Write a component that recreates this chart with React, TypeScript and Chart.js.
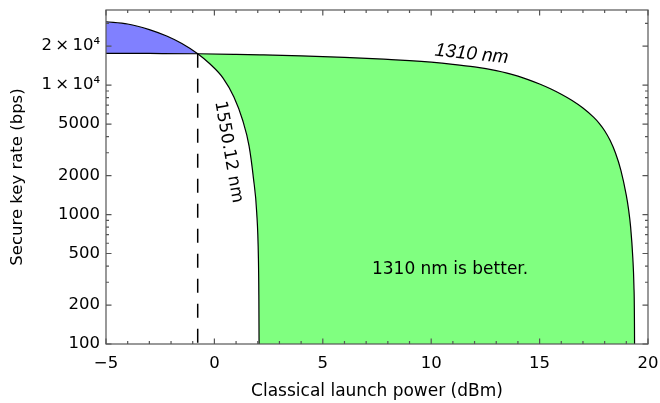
import React, { useEffect, useRef } from 'react';
import { Chart, registerables } from 'chart.js';

Chart.register(...registerables);

// ---- data ----
const POWER_1310 = [-5, -3, -0.77, 1, 2.1, 4, 6, 8, 9, 10, 11, 12, 13, 13.5, 14, 14.5, 15, 15.5, 16, 16.5, 17, 17.5, 17.75, 18, 18.25, 18.5, 18.75, 19, 19.1, 19.2, 19.3, 19.35, 19.38, 19.4];
const RATE_1310 = [17600, 17540, 17450, 17260, 17110, 16810, 16390, 15790, 15460, 15030, 14470, 13800, 12920, 12360, 11710, 10970, 10180, 9355, 8483, 7592, 6645, 5622, 5061, 4437, 3741, 2985, 2195, 1407, 1107, 796, 461, 283, 100, 1];

const POWER_1550 = [-5, -4, -3, -2.2, -1.5, -0.77, -0.2, 0.4, 0.9, 1.3, 1.6, 1.8, 1.95, 2.03, 2.05, 2.06, 2.08, 20];
const RATE_1550 = [30830, 29640, 26830, 23900, 20920, 17450, 14530, 11320, 8080, 5370, 3380, 1913, 1045, 461, 239, 100, 1, 1];

const CROSS_POWER = [-0.77, -0.77];
const CROSS_RATE = [17450, 100];

const X_TICKS = [-5, 0, 5, 10, 15, 20];
const X_TICK_LABELS = ['\u22125', '0', '5', '10', '15', '20'];
const X_MINOR_TICKS = [-5, -4, -3, -2, -1, 0, 1, 2, 3, 4, 5, 6, 7, 8, 9, 10, 11, 12, 13, 14, 15, 16, 17, 18, 19, 20];

const Y_TICKS = [100, 200, 500, 1000, 2000, 5000, 10000, 20000];
const Y_TICK_LABELS = ['100', '200', '500', '1000', '2000', '5000', '1\u2009\u00d7\u200910\u2074', '2\u2009\u00d7\u200910\u2074'];
const Y_MINOR_TICKS = [100, 200, 300, 400, 500, 600, 700, 800, 900, 1000, 2000, 3000, 4000, 5000, 6000, 7000, 8000, 9000, 10000, 20000, 30000];

const CURVE_LABELS = [
  { text: '1310 nm', x: 11.86, y: 17350, angle: 6, font: 'italic 19px "Liberation Sans"' },
  { text: '1550.12 nm', x: 0.65, y: 3040, angle: 80, font: '17px "DejaVu Sans"' },
  { text: '1310 nm is better.', x: 10.87, y: 376, angle: 0, font: '17px "DejaVu Sans"' },
];

const FRAME = '#555555';
const FONT = 'DejaVu Sans';

const toPoints = (xs: number[], ys: number[]) => xs.map((x, i) => ({ x, y: ys[i] }));

const frameAndLabels = {
  id: 'frameAndLabels',
  afterDraw(chart: any) {
    const { ctx, chartArea: a, scales } = chart;
    const xs = scales.x;
    const ys = scales.y;
    ctx.save();
    ctx.strokeStyle = FRAME;
    ctx.lineWidth = 1.2;
    ctx.strokeRect(a.left, a.top, a.right - a.left, a.bottom - a.top);
    ctx.beginPath();
    for (const v of X_MINOR_TICKS) {
      const px = xs.getPixelForValue(v);
      const len = X_TICKS.includes(v) ? 5.5 : 3;
      ctx.moveTo(px, a.bottom);
      ctx.lineTo(px, a.bottom - len);
      ctx.moveTo(px, a.top);
      ctx.lineTo(px, a.top + len);
    }
    for (const v of Y_MINOR_TICKS) {
      const py = ys.getPixelForValue(v);
      const len = Y_TICKS.includes(v) ? 5.5 : 3;
      ctx.moveTo(a.left, py);
      ctx.lineTo(a.left + len, py);
      ctx.moveTo(a.right, py);
      ctx.lineTo(a.right - len, py);
    }
    ctx.stroke();
    for (const l of CURVE_LABELS) {
      ctx.save();
      ctx.translate(xs.getPixelForValue(l.x), ys.getPixelForValue(l.y));
      ctx.rotate((l.angle * Math.PI) / 180);
      ctx.font = l.font;
      ctx.fillStyle = '#000';
      ctx.textAlign = 'center';
      ctx.textBaseline = 'middle';
      ctx.fillText(l.text, 0, 0);
      ctx.restore();
    }
    ctx.restore();
  },
};

export default function App() {
  const ref = useRef<HTMLCanvasElement>(null);
  useEffect(() => {
    const chart = new Chart(ref.current as HTMLCanvasElement, {
      type: 'line',
      data: {
        datasets: [
          {
            label: '1310 nm',
            data: toPoints(POWER_1310, RATE_1310),
            borderColor: '#000',
            borderWidth: 1.2,
            pointRadius: 0,
            cubicInterpolationMode: 'monotone',
            fill: { target: 1, above: '#80ff80', below: '#8080ff' },
          },
          {
            label: '1550.12 nm',
            data: toPoints(POWER_1550, RATE_1550),
            borderColor: '#000',
            borderWidth: 1.2,
            pointRadius: 0,
            cubicInterpolationMode: 'monotone',
            fill: false,
          },
          {
            label: 'crossing',
            data: toPoints(CROSS_POWER, CROSS_RATE),
            borderColor: '#000',
            borderWidth: 1.5,
            borderDash: [14, 11],
            pointRadius: 0,
            fill: false,
          },
        ],
      } as any,
      options: {
        responsive: false,
        animation: false,
        events: [],
        layout: { padding: { left: 0, right: 12, top: 10, bottom: 0 } },
        plugins: {
          legend: { display: false },
          tooltip: { enabled: false },
          filler: { drawTime: 'beforeDatasetsDraw' },
        },
        scales: {
          x: {
            type: 'linear',
            min: -5,
            max: 20,
            afterBuildTicks: (s: any) => {
              s.ticks = X_TICKS.map((v) => ({ value: v }));
            },
            afterFit: (s: any) => {
              s.height = 59;
              s.paddingLeft = 0;
              s.paddingRight = 0;
            },
            grid: { display: false, drawTicks: false },
            border: { display: false },
            ticks: {
              autoSkip: false,
              maxRotation: 0,
              padding: 9.5,
              color: '#000',
              font: { family: FONT, size: 16.5 },
              callback: (_v: any, i: number) => X_TICK_LABELS[i],
            },
            title: {
              display: true,
              text: 'Classical launch power (dBm)',
              color: '#000',
              font: { family: FONT, size: 17 },
              padding: { top: 0, bottom: 1.5 },
            },
          },
          y: {
            type: 'logarithmic',
            min: 100,
            max: 38000,
            afterBuildTicks: (s: any) => {
              s.ticks = Y_TICKS.map((v) => ({ value: v }));
            },
            afterFit: (s: any) => {
              s.width = 106;
              s.paddingTop = 0;
              s.paddingBottom = 0;
            },
            grid: { display: false, drawTicks: false },
            border: { display: false },
            ticks: {
              autoSkip: false,
              padding: 6,
              color: '#000',
              font: { family: FONT, size: 16.5 },
              callback: (_v: any, i: number) => Y_TICK_LABELS[i],
            },
            title: {
              display: true,
              text: 'Secure key rate (bps)',
              color: '#000',
              font: { family: FONT, size: 16.5 },
              padding: { top: 7.5, bottom: 0 },
            },
          },
        },
      } as any,
      plugins: [frameAndLabels],
    });
    return () => chart.destroy();
  }, []);

  return (
    <div style={{ position: 'absolute', left: 0, top: 0, width: 660, height: 403, background: '#fff' }}>
      <canvas ref={ref} width={660} height={403} style={{ display: 'block' }} />
    </div>
  );
}
